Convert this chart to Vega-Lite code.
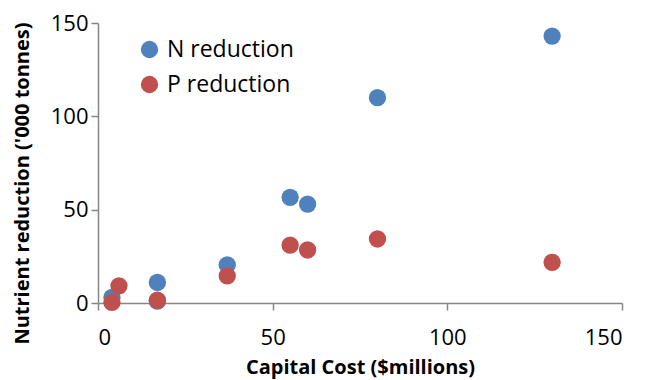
{
  "$schema": "https://vega.github.io/schema/vega-lite/v6.json",
  "autosize": "none",
  "width": 524,
  "height": 280,
  "padding": {"left": 98, "top": 23, "right": 25, "bottom": 77},
  "background": "white",
  "config": {
    "view": {"stroke": null},
    "font": "Open Sans"
  },
  "data": {
    "values": [
      {"series": "N reduction", "cost": 4, "reduction": 3},
      {"series": "N reduction", "cost": 17, "reduction": 1},
      {"series": "N reduction", "cost": 17, "reduction": 11},
      {"series": "N reduction", "cost": 37, "reduction": 20.4},
      {"series": "N reduction", "cost": 55, "reduction": 56.6},
      {"series": "N reduction", "cost": 60, "reduction": 53},
      {"series": "N reduction", "cost": 80, "reduction": 110},
      {"series": "N reduction", "cost": 130, "reduction": 143},
      {"series": "P reduction", "cost": 4, "reduction": 0.3},
      {"series": "P reduction", "cost": 6, "reduction": 9.2},
      {"series": "P reduction", "cost": 17, "reduction": 1.5},
      {"series": "P reduction", "cost": 37, "reduction": 14.5},
      {"series": "P reduction", "cost": 55, "reduction": 31},
      {"series": "P reduction", "cost": 60, "reduction": 28.4},
      {"series": "P reduction", "cost": 80, "reduction": 34.3},
      {"series": "P reduction", "cost": 130, "reduction": 21.8}
    ]
  },
  "mark": {"type": "point", "filled": true, "shape": "circle", "size": 300, "opacity": 1},
  "encoding": {
    "x": {
      "field": "cost",
      "type": "quantitative",
      "scale": {"domain": [0, 150], "nice": false},
      "axis": {
        "title": "Capital Cost ($millions)",
        "values": [0, 50, 100, 150],
        "grid": false,
        "domainColor": "#868686",
        "domainWidth": 1.5,
        "tickColor": "#868686",
        "tickWidth": 1.5,
        "tickSize": 7,
        "labelFontSize": 22,
        "labelColor": "black",
        "labelPadding": 17,
        "titleFontSize": 20,
        "titleFontWeight": "bold",
        "titleColor": "black",
        "titlePadding": 9
      }
    },
    "y": {
      "field": "reduction",
      "type": "quantitative",
      "scale": {"domain": [0, 150], "nice": false},
      "axis": {
        "title": "Nutrient reduction ('000 tonnes)",
        "values": [0, 50, 100, 150],
        "grid": false,
        "domainColor": "#868686",
        "domainWidth": 1.5,
        "tickColor": "#868686",
        "tickWidth": 1.5,
        "tickSize": 7,
        "labelFontSize": 22,
        "labelColor": "black",
        "labelPadding": 3,
        "titleFontSize": 20,
        "titleFontWeight": "bold",
        "titleColor": "black",
        "titleAngle": -90,
        "titleAlign": "center",
        "titleBaseline": "middle",
        "titleX": -76,
        "titleY": 160
      }
    },
    "color": {
      "field": "series",
      "type": "nominal",
      "scale": {"domain": ["N reduction", "P reduction"], "range": ["#4F81BD", "#C0504D"]},
      "legend": {
        "title": null,
        "orient": "none",
        "legendX": 40,
        "legendY": 15,
        "symbolType": "circle",
        "symbolSize": 300,
        "symbolStrokeWidth": 0,
        "labelFontSize": 23,
        "labelColor": "black",
        "rowPadding": 11,
        "labelOffset": 6
      }
    }
  }
}
